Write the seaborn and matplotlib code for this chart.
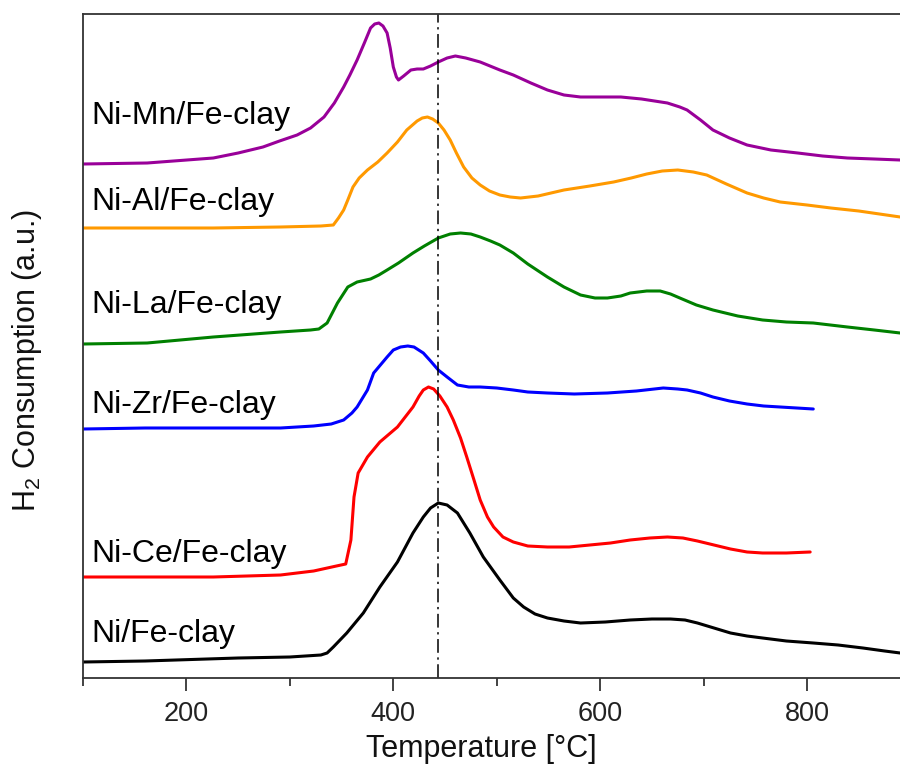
import matplotlib
matplotlib.use("Agg")
import matplotlib.pyplot as plt
import numpy as np
import pandas as pd
import seaborn as sns

# Temperature grids (°C) and H2 consumption signals (a.u.) for each catalyst
t_ni = [100, 160, 250, 300, 330, 336, 342, 355, 371, 387, 404, 419, 429, 436, 443.5, 452, 462, 474, 487,
        503, 516, 526, 537, 549, 565, 581, 605, 629, 650, 668, 682, 694, 710, 726, 742, 757, 780, 806, 830,
        854, 875, 890, 900]
y_ni = [16, 17, 20, 21, 23, 25, 31, 45, 65, 91, 116, 145, 161, 170, 175, 173, 165, 145, 121,
        98, 80, 71, 64, 60, 57, 55, 56, 58, 59, 59, 58, 55, 50, 45, 42, 40, 37, 35, 33,
        30, 27, 25, 23]

t_ce = [100, 160, 226, 291, 323, 345, 354, 359, 362, 366, 375, 387, 404, 419, 425, 429, 434, 439, 445, 452,
        458, 465, 471, 478, 484, 491, 497, 506, 516, 530, 549, 570, 590, 610, 629, 648, 665, 680, 694, 710,
        726, 742, 757, 780, 803]
y_ce = [101, 101, 101, 103, 107, 112, 114, 138, 181, 205, 221, 236, 251, 271, 282, 288, 291, 289, 282, 271,
        258, 240, 221, 198, 178, 161, 151, 141, 136, 132, 131, 131, 133, 135, 138, 140, 141, 140, 137, 133,
        129, 126, 125, 125, 126]

t_zr = [100, 160, 226, 291, 323, 340, 352, 360, 365, 375, 381, 394, 400, 407, 414, 420, 429, 436, 443.5, 452,
        462, 473, 484, 500, 516, 530, 549, 575, 607, 635, 661, 675, 684, 697, 709, 725, 742, 758, 774, 790,
        806]
y_zr = [249, 250, 250, 250, 252, 254, 258, 265, 271, 288, 305, 321, 328, 331, 332, 331, 325, 317, 308, 301,
        293, 291, 291, 290, 288, 286, 285, 284, 285, 287, 290, 289, 288, 285, 281, 277, 274, 272, 271, 270,
        269]

t_la = [100, 162, 226, 291, 320, 328, 336, 346, 356, 365, 378, 386, 394, 405, 419, 430, 443.5, 455, 465, 475,
        484, 494, 503, 516, 530, 549, 565, 581, 595, 607, 620, 629, 645, 658, 668, 677, 693, 709, 733, 757,
        780, 806, 839, 865, 890, 900]
y_la = [334, 335, 341, 346, 348, 349, 355, 375, 391, 396, 399, 403, 408, 415, 425, 432, 440, 444, 445, 444,
        441, 437, 433, 425, 414, 401, 391, 383, 380, 380, 382, 385, 387, 387, 384, 380, 373, 368, 362, 358,
        356, 355, 351, 348, 345, 344]

t_al = [100, 226, 291, 330, 342, 347, 352, 356, 361, 367, 375, 385, 394, 404, 413, 423, 428, 433, 438, 443.5,
        449, 455, 461, 468, 476, 484, 493, 503, 513, 523, 540, 565, 590, 613, 630, 645, 660, 675, 690, 703,
        722, 742, 758, 774, 800, 823, 850, 870, 890, 900]
y_al = [450, 450, 451, 452, 453, 460, 468, 478, 491, 500, 508, 516, 525, 536, 548, 557, 560, 561, 559, 555,
        548, 538, 525, 511, 500, 493, 487, 483, 481, 480, 482, 488, 492, 496, 500, 504, 507, 508, 506, 503,
        494, 485, 480, 476, 473, 470, 467, 464, 461, 460]

t_mn = [100, 162, 226, 250, 274, 290, 307, 320, 333, 343, 352, 358, 365, 372, 378, 382, 386, 390, 394, 397,
        400, 403, 405, 410, 417, 423, 429, 436, 443.5, 452, 460, 470, 484, 503, 516, 533, 549, 565, 581, 600,
        620, 640, 665, 677, 684, 697, 709, 725, 742, 765, 791, 815, 839, 865, 890, 900]
y_mn = [514, 515, 520, 525, 531, 537, 543, 550, 561, 575, 591, 603, 618, 635, 650, 654, 655, 652, 645, 630,
        611, 601, 598, 602, 608, 609, 609, 612, 616, 620, 622, 620, 616, 608, 603, 595, 588, 583, 581, 581,
        581, 579, 575, 571, 568, 558, 548, 540, 533, 528, 525, 522, 520, 519, 518, 518]

names = ["Ni/Fe-clay", "Ni-Ce/Fe-clay", "Ni-Zr/Fe-clay", "Ni-La/Fe-clay", "Ni-Al/Fe-clay", "Ni-Mn/Fe-clay"]
colors = ["#000000", "#FF0000", "#0000FF", "#008000", "#FF9900", "#990099"]
label_y = [36, 116, 265, 365, 468, 554]
x_ticks = [200, 400, 600, 800]
peak_ref = 443.5

series = [(t_ni, y_ni), (t_ce, y_ce), (t_zr, y_zr), (t_la, y_la), (t_al, y_al), (t_mn, y_mn)]
frames = []
for name, (t, y) in zip(names, series):
    frames.append(pd.DataFrame({"T": t, "H2": y, "sample": name}))
df = pd.concat(frames, ignore_index=True)

sns.set_style("ticks")
plt.rcParams["font.family"] = ["Liberation Sans", "DejaVu Sans"]
plt.rcParams["mathtext.default"] = "regular"

fig = plt.figure(figsize=(9.0, 7.67), dpi=100)
ax = fig.add_axes([83 / 900, 1 - 678 / 767, (910.5 - 83) / 900, (678 - 14) / 767])

sns.lineplot(data=df, x="T", y="H2", hue="sample", hue_order=names, palette=colors,
             sort=False, estimator=None, linewidth=2.2, legend=False, ax=ax)
for line in ax.get_lines():
    line.set_solid_joinstyle("round")
    line.set_solid_capstyle("round")

ax.axvline(peak_ref, color="black", linewidth=1.1, linestyle=(0, (9, 3, 1.5, 3)))

for name, ly in zip(names, label_y):
    ax.text(108, ly, name, fontsize=23, color="black", va="baseline", ha="left")

ax.set_xlim(100, 900)
ax.set_ylim(0, 664)
ax.set_xticks(x_ticks)
ax.set_xticks([100, 300, 500, 700], minor=True)
ax.set_yticks([])
ax.tick_params(axis="x", which="major", direction="out", length=9.5, width=1.2,
               labelsize=19.5, pad=7, colors="#222222", labelcolor="#222222")
ax.tick_params(axis="x", which="minor", direction="out", length=5.5, width=1.2, colors="#222222")

for side in ["left", "bottom", "top"]:
    ax.spines[side].set_linewidth(1.3)
    ax.spines[side].set_color("#333333")
ax.spines["right"].set_visible(False)

ax.set_xlabel("Temperature [°C]", fontsize=22, color="#111111")
ax.xaxis.set_label_coords((481 - 83) / 827.5, -(757 - 678) / 664)
ax.xaxis.label.set_va("baseline")
ax.set_ylabel(r"H$_2$ Consumption (a.u.)", fontsize=22, color="#111111")
ax.yaxis.set_label_coords((44 - 83) / 827.5, (678 - 360) / 664)

fig.savefig("out.png", dpi=100)
